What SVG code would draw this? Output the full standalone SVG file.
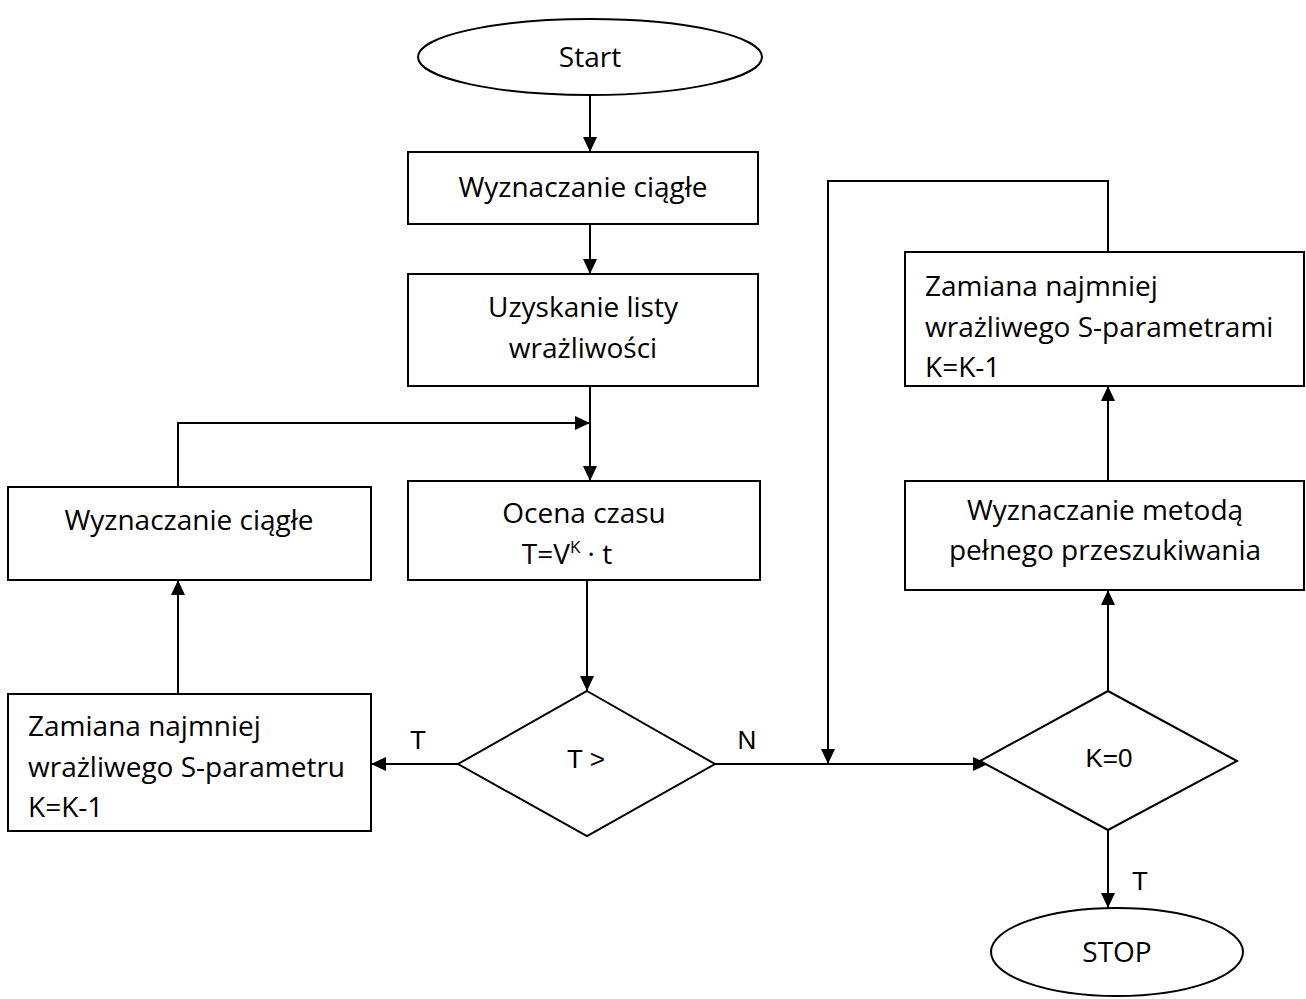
<svg xmlns="http://www.w3.org/2000/svg" width="1306" height="999" viewBox="0 0 1306 999">
<style>
.s{fill:#fff;stroke:#000;stroke-width:2}
.c{fill:none;stroke:#000;stroke-width:2}
.t{font-family:"Open Sans","Liberation Sans",sans-serif;font-size:28px;fill:#000}
.m{text-anchor:middle}
.l{font-family:"Liberation Sans",Arial,sans-serif;font-size:26px;fill:#000}
</style>
<defs>
<marker id="a" markerUnits="userSpaceOnUse" markerWidth="15" markerHeight="14" refX="15" refY="7" orient="auto">
<path d="M0,0 L15,7 L0,14 z" fill="#000"/>
</marker>
</defs>
<rect width="1306" height="999" fill="#fff"/>
<g id="connectors">
<path class="c" d="M590,95 V152" marker-end="url(#a)"/>
<path class="c" d="M590,224 V274" marker-end="url(#a)"/>
<path class="c" d="M590,386 V481" marker-end="url(#a)"/>
<path class="c" d="M178,487 V423 H590" marker-end="url(#a)"/>
<path class="c" d="M587,580 V691" marker-end="url(#a)"/>
<path class="c" d="M458,764 H371" marker-end="url(#a)"/>
<path class="c" d="M178,694 V580" marker-end="url(#a)"/>
<path class="c" d="M715,764 H988" marker-end="url(#a)"/>
<path class="c" d="M1108,252 V181 H828 V764" marker-end="url(#a)"/>
<path class="c" d="M1108,690 V590" marker-end="url(#a)"/>
<path class="c" d="M1108,481 V386" marker-end="url(#a)"/>
<path class="c" d="M1108,830 V908" marker-end="url(#a)"/>
<text class="l m" x="418" y="749">T</text>
<text class="l m" x="747" y="749">N</text>
<text class="l m" x="1140" y="890">T</text>
</g>
<g id="start">
<ellipse class="s" cx="590" cy="57" rx="172" ry="38"/>
<text class="t m" x="590" y="67">Start</text>
</g>
<g id="wyznaczanie1">
<rect class="s" x="408" y="152" width="350" height="72"/>
<text class="t m" x="583" y="197">Wyznaczanie ciągłe</text>
</g>
<g id="uzyskanie">
<rect class="s" x="408" y="274" width="350" height="112"/>
<text class="t m" x="583" y="317">Uzyskanie listy</text>
<text class="t m" x="583" y="358">wrażliwości</text>
</g>
<g id="ocena">
<rect class="s" x="408" y="481" width="352" height="99"/>
<text class="t m" x="584" y="523">Ocena czasu</text>
<text class="t m" x="567" y="564">T=V<tspan dy="-11" font-size="17">K</tspan><tspan dy="11"> · t</tspan></text>
</g>
<g id="wyznaczanie2">
<rect class="s" x="8" y="487" width="363" height="93"/>
<text class="t m" x="189" y="530">Wyznaczanie ciągłe</text>
</g>
<g id="zamiana1">
<rect class="s" x="8" y="694" width="363" height="137"/>
<text class="t" x="28" y="736">Zamiana najmniej</text>
<text class="t" x="28" y="777">wrażliwego S-parametru</text>
<text class="t" x="28" y="817">K=K-1</text>
</g>
<g id="decyzja1">
<polygon class="s" points="587,691 715,764 587,836 458,764"/>
<text class="l m" x="586" y="768">T &gt;</text>
</g>
<g id="decyzja2">
<polygon class="s" points="1108,691 1237,761 1108,830 980,761"/>
<text class="l m" x="1109" y="767">K=0</text>
</g>
<g id="zamiana2">
<rect class="s" x="905" y="252" width="399" height="134"/>
<text class="t" x="925" y="296">Zamiana najmniej</text>
<text class="t" x="925" y="337">wrażliwego S-parametrami</text>
<text class="t" x="925" y="377">K=K-1</text>
</g>
<g id="pelne">
<rect class="s" x="905" y="481" width="399" height="109"/>
<text class="t m" x="1105" y="520">Wyznaczanie metodą</text>
<text class="t m" x="1105" y="560">pełnego przeszukiwania</text>
</g>
<g id="stop">
<ellipse class="s" cx="1117" cy="952" rx="126" ry="44"/>
<text class="t m" x="1117" y="962">STOP</text>
</g>
</svg>
